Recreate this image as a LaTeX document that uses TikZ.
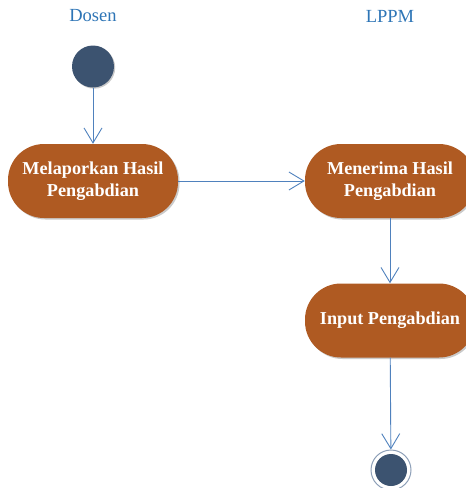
\documentclass[tikz,border=0pt]{standalone}
\usepackage{fontspec}
\setmainfont{Liberation Serif}
\usetikzlibrary{arrows.meta,shadows}
\definecolor{actfill}{HTML}{AF5A22}
\definecolor{dotfill}{HTML}{3C5370}
\definecolor{flowline}{HTML}{4F81BD}
\definecolor{lanetext}{HTML}{2E75B6}
\definecolor{ringcol}{HTML}{8EA0B8}
\tikzset{
  action/.style={draw=none, fill=actfill, rounded corners=36pt, minimum width=170pt, minimum height=74pt,
    text=white, font=\fontsize{18.2}{22}\selectfont\bfseries, align=center, inner sep=0pt,
    drop shadow={shadow xshift=1.5pt, shadow yshift=-1.5pt, opacity=0.35, fill=black!60}},
  lane/.style={text=lanetext, font=\fontsize{18.5}{22}\selectfont},
  startdot/.style={circle, fill=dotfill, minimum size=42pt, inner sep=0pt,
    drop shadow={shadow xshift=1.2pt, shadow yshift=-1.2pt, opacity=0.35, fill=black!60}},
  enddot/.style={circle, fill=dotfill, minimum size=32pt, inner sep=0pt},
  endring/.style={circle, draw=ringcol, line width=1pt, minimum size=40pt, inner sep=0pt, fill=white},
  flow/.style={draw=flowline, line width=0.9pt, -{Straight Barb[length=15pt,width=18pt,line width=0.9pt]}}
}
\begin{document}
\begin{tikzpicture}[x=1pt,y=-1pt]
\useasboundingbox (0,0) rectangle (466,488);
\clip (0,0) rectangle (466,488);
\node[lane] (dosen) at (93,16) {Dosen};
\node[lane] (lppm) at (390,16) {LPPM};
\node[startdot] (start) at (93,66.5) {};
\node[action] (lapor) at (93,181) {Melaporkan Hasil\\Pengabdian};
\node[action] (terima) at (390,181) {Menerima Hasil\\Pengabdian};
\node[action] (input) at (390,320.5) {Input Pengabdian};
\node[endring] (endo) at (391,470) {};
\node[enddot] (endi) at (391,470) {};
\draw[flow] (start) -- (lapor);
\draw[flow] (lapor) -- (terima);
\draw[flow] (terima) -- (input);
\draw[flow] (input) -- (endo);
\end{tikzpicture}
\end{document}
